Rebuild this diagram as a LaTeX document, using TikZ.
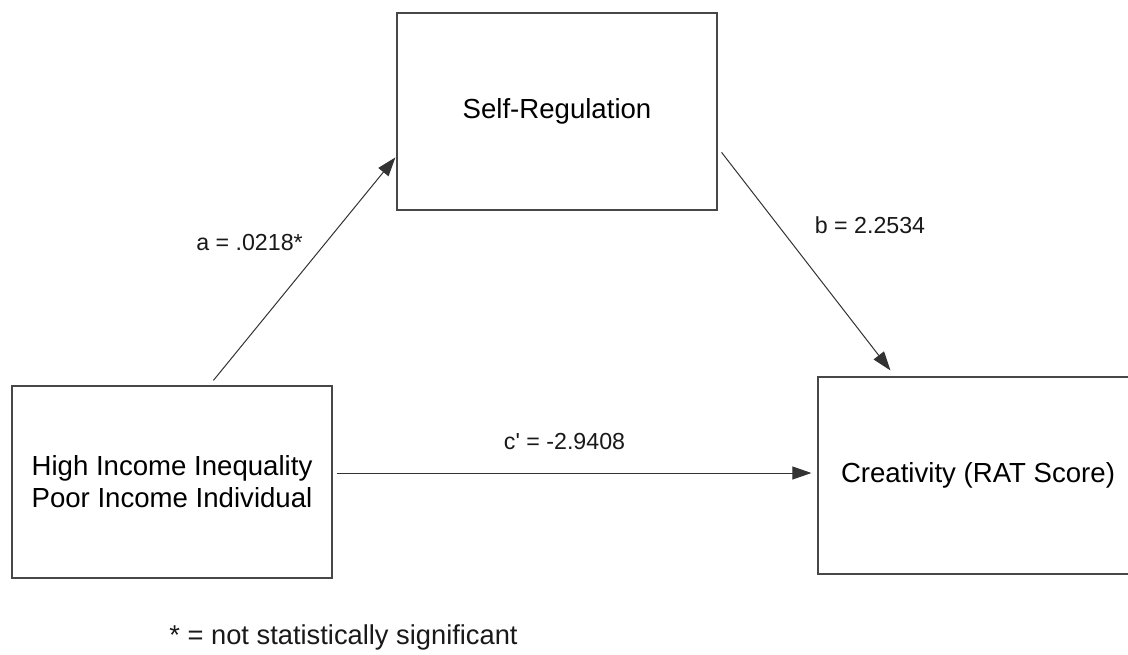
\documentclass[tikz,border=0pt]{standalone}
\usepackage{fontspec}
\setmainfont{Liberation Sans}
\usetikzlibrary{arrows.meta,calc}
\begin{document}
\begin{tikzpicture}[x=1pt,y=-1pt,
  box/.style={draw=black!72, line width=1.2pt, minimum width=320pt, inner sep=0pt,
    font=\fontsize{27.6}{31.8}\selectfont, align=center},
  conn/.style={draw=black!80, line width=1pt, -{Triangle[length=19pt,width=13pt]}},
  lbl/.style={font=\fontsize{23.2}{27}\selectfont, inner sep=0pt, text=black!90}]
\clip (0,0) rectangle (1128,654);
\fill[white] (0,0) rectangle (1128,654);
\node[box, minimum height=197pt] (sr) at (557,111.5) {Self-Regulation};
\node[box, minimum height=192pt] (hi) at (172,482) {High Income Inequality\\Poor Income Individual};
\node[box, minimum height=197pt] (cr) at (978,475.5) {Creativity (RAT Score)};
\coordinate (a0) at ($(hi.north west)+(202,-5)$);
\coordinate (a1) at ($(sr.north west)+(-1,145)$);
\coordinate (b0) at ($(sr.north east)+(4,140)$);
\coordinate (b1) at ($(cr.north west)+(73,-6)$);
\coordinate (c0) at ($(hi.east)+(4,-9)$);
\coordinate (c1) at ($(cr.west)+(-6,-2.5)$);
\draw[conn] (a0) -- (a1);
\draw[conn] (b0) -- (b1);
\draw[conn] (c0) -- (c1);
\node[lbl] (la) at (249.5,243) {a = .0218*};
\node[lbl] (lb) at (870,225) {b = 2.2534};
\node[lbl] (lc) at (564.5,442) {c\textquotesingle{} = -2.9408};
\node[font=\fontsize{27.3}{31.5}\selectfont, inner sep=0pt, text=black!90] (fn) at (343.5,637) {* = not statistically significant};
\end{tikzpicture}
\end{document}
